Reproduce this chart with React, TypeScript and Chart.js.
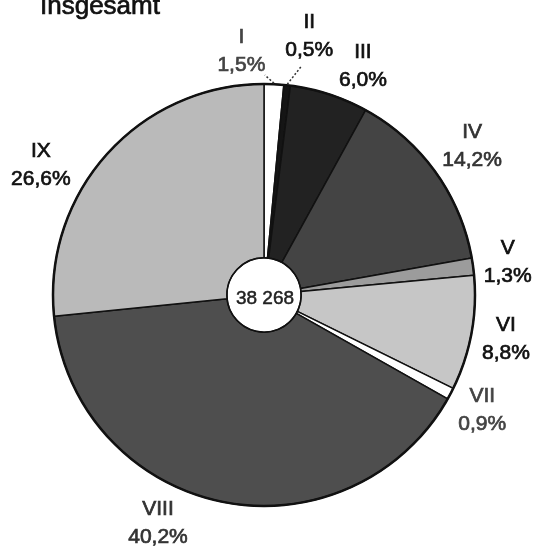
import React, { useEffect, useRef } from "react";
import { Chart, registerables } from "chart.js";

Chart.register(...registerables);

// ---- data ----
const titleText = "Insgesamt";
const categories = ["I", "II", "III", "IV", "V", "VI", "VII", "VIII", "IX"];
const shares = [1.5, 0.5, 6.0, 14.2, 1.3, 8.8, 0.9, 40.2, 26.6];
const shareLabels = ["1,5%", "0,5%", "6,0%", "14,2%", "1,3%", "8,8%", "0,9%", "40,2%", "26,6%"];
const totalLabel = "38 268";

// ---- styles ----
const fills = ["#ffffff", "#151515", "#222222", "#444444", "#9c9c9c", "#c6c6c6", "#ffffff", "#4e4e4e", "#bababa"];
const textColors = ["#444", "#111", "#111", "#333", "#111", "#111", "#444", "#333", "#111"];
const labelAngleShift = [-8, 3.6, 5.4, 0, 0, 0, 0, 13, -12];
const labelGap = [34, 52, 38, 45, 35, 35, 36, 41, 47];
const FONT = '"Liberation Sans", Arial, sans-serif';

function heavyText(ctx: CanvasRenderingContext2D, s: string, x: number, y: number, color: string, w = 0.7) {
  ctx.fillStyle = color;
  ctx.strokeStyle = color;
  ctx.lineWidth = w;
  ctx.fillText(s, x, y);
  ctx.strokeText(s, x, y);
}

const labelPlugin = {
  id: "pieLabels",
  afterDraw(chart: any) {
    const ctx = chart.ctx as CanvasRenderingContext2D;
    const meta = chart.getDatasetMeta(0);
    if (!meta.data.length) return;
    const a0: any = meta.data[0];
    const cx = a0.x, cy = a0.y, R = a0.outerRadius, r0 = a0.innerRadius;
    ctx.save();
    // outer rim
    ctx.beginPath();
    ctx.arc(cx, cy, R, 0, Math.PI * 2);
    ctx.lineWidth = 2.5;
    ctx.strokeStyle = "#111";
    ctx.stroke();
    // inner rim
    ctx.beginPath();
    ctx.arc(cx, cy, r0, 0, Math.PI * 2);
    ctx.lineWidth = 1.5;
    ctx.stroke();

    // labels
    ctx.textAlign = "center";
    ctx.textBaseline = "middle";
    meta.data.forEach((el: any, i: number) => {
      const mid = (el.startAngle + el.endAngle) / 2;
      const ang = mid + (labelAngleShift[i] * Math.PI) / 180;
      const d = R + labelGap[i];
      const x = cx + d * Math.cos(ang);
      const y = cy + d * Math.sin(ang);
      ctx.font = `21px ${FONT}`;
      heavyText(ctx, categories[i], x, y - 14, textColors[i]);
      heavyText(ctx, shareLabels[i], x, y + 14, textColors[i]);
      // dotted leader for the thin top slices
      if (i < 2) {
        const p1x = cx + (R + 1) * Math.cos(mid);
        const p1y = cy + (R + 1) * Math.sin(mid);
        const endAng = mid + ((i === 0 ? -2.5 : 3) * Math.PI) / 180;
        const endD = R + (i === 0 ? 9 : 21);
        ctx.beginPath();
        ctx.setLineDash([2, 2]);
        ctx.lineWidth = 1.5;
        ctx.strokeStyle = "#333";
        ctx.moveTo(p1x, p1y);
        ctx.lineTo(cx + endD * Math.cos(endAng), cy + endD * Math.sin(endAng));
        ctx.stroke();
        ctx.setLineDash([]);
      }
    });

    // center total
    ctx.font = `19px ${FONT}`;
    heavyText(ctx, totalLabel, cx + 1, cy + 4, "#222", 0.5);

    // title (partly cut at top like the scan)
    ctx.textAlign = "left";
    ctx.textBaseline = "alphabetic";
    ctx.font = `26px ${FONT}`;
    heavyText(ctx, titleText, 40, 14, "#111");
    ctx.restore();
  },
};

export default function App() {
  const ref = useRef<HTMLCanvasElement | null>(null);
  useEffect(() => {
    if (!ref.current) return;
    const chart = new Chart(ref.current, {
      type: "doughnut",
      data: {
        labels: categories,
        datasets: [
          {
            data: shares,
            backgroundColor: fills,
            borderColor: "#111",
            borderWidth: 1.5,
            hoverOffset: 0,
          },
        ],
      },
      options: {
        responsive: false,
        animation: false,
        events: [],
        radius: 211,
        cutout: 37,
        rotation: 0,
        layout: { padding: { left: 53, right: 58, top: 84, bottom: 42 } },
        plugins: {
          legend: { display: false },
          tooltip: { enabled: false },
          title: { display: false },
        },
      } as any,
      plugins: [labelPlugin],
    });
    return () => chart.destroy();
  }, []);
  return (
    <div style={{ position: "fixed", left: 0, top: 0, width: 533, height: 548, background: "#fff" }}>
      <canvas ref={ref} width={533} height={548} />
    </div>
  );
}
